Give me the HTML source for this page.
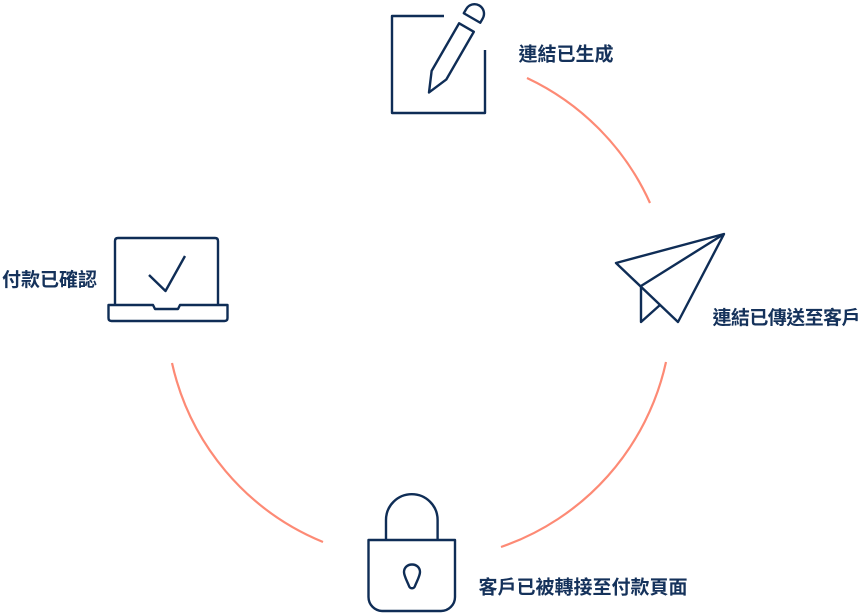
<!DOCTYPE html>
<html>
<head>
<meta charset="utf-8">
<style>
  html, body { margin: 0; padding: 0; background: #ffffff; }
  body { width: 865px; height: 613px; overflow: hidden; }
  svg { display: block; }
  text { font-family: "Liberation Sans", "Noto Sans CJK TC", sans-serif; font-weight: bold; font-size: 19px; fill: #15325b; }
</style>
</head>
<body>
<svg width="865" height="613" viewBox="0 0 865 613" xmlns="http://www.w3.org/2000/svg">
  <!-- arcs -->
  <g fill="none" stroke="#fd8a75" stroke-width="2.2" stroke-linecap="butt">
    <path d="M527,78 A253,253 0 0 1 650,203"/>
    <path d="M666,362 A253,253 0 0 1 501,547"/>
    <path d="M323,542 A253,253 0 0 1 172,363"/>
  </g>

  <g fill="none" stroke="#0f2d56" stroke-width="2.4" stroke-linejoin="round" stroke-linecap="butt">
    <!-- document + pencil -->
    <path d="M444,16 L392,16 L392,113 L485,113 L485,50"/>
    <g transform="translate(472,18) rotate(30)">
      <path d="M-9.5,0 L9.5,0 L9.5,-5 A9.5,9.5 0 0 0 -9.5,-5 Z"/>
      <path d="M-8.5,11 L8.5,11 L8.5,66 L0,86 L-8.5,66 Z"/>
    </g>

    <!-- paper plane -->
    <path d="M616,263 L724,234 L678,322 Z"/>
    <path d="M724,234 L641,286 L641,322 L660,305"/>

    <!-- laptop -->
    <path d="M115,305 L115,241 Q115,238 118,238 L215,238 Q218,238 218,241 L218,305"/>
    <path d="M108.5,305 L153,305 L155,309 L178,309 L180,305 L227.5,305 L227.5,318 Q227.5,321 224.5,321 L111.5,321 Q108.5,321 108.5,318 Z"/>
    <path d="M149,275 L165.5,291 L185,256"/>

    <!-- lock -->
    <path d="M386,540 L386,520 A25.8,25.8 0 0 1 437.6,520 L437.6,540"/>
    <path d="M368.5,540 L455,540 L455,597 A14,14 0 0 1 441,611 L382.5,611 A14,14 0 0 1 368.5,597 Z"/>
    <path d="M412,564.5 C417,564.5 420,568 420,572 C420,576 416.5,582 415,586 C414,589 410,589 409,586 C407.5,582 404,576 404,572 C404,568 407,564.5 412,564.5 Z"/>
  </g>

  <!-- labels -->
  <text x="518.5" y="60.5">連結已生成</text>
  <text x="712.5" y="324" textLength="148" lengthAdjust="spacing">連結已傳送至客戶</text>
  <text x="2" y="286">付款已確認</text>
  <text x="478.5" y="593.5">客戶已被轉接至付款頁面</text>
</svg>
</body>
</html>
